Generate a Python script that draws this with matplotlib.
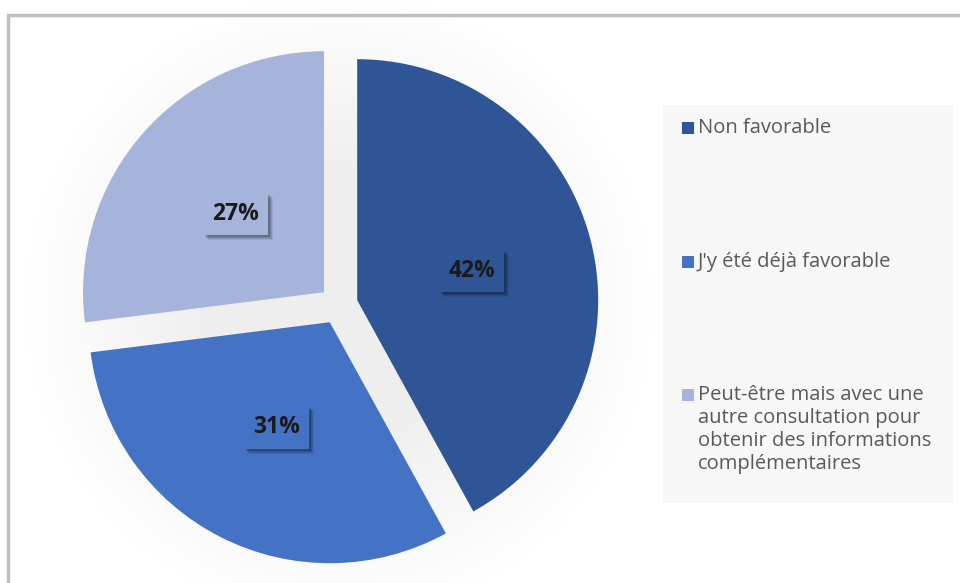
import numpy as np
import matplotlib.pyplot as plt
from matplotlib.patches import Rectangle

plt.rcParams['font.family'] = ['Open Sans', 'DejaVu Sans']

# ---- data ----
labels = ['Non favorable',
          "J'y été déjà favorable",
          'Peut-être mais avec une\nautre consultation pour\nobtenir des informations\ncomplémentaires']
shares = [42, 31, 27]
colors = ['#2F5597', '#4472C4', '#A6B4DC']

# ---- figure in pixel coordinates ----
W, H = 960, 583
fig = plt.figure(figsize=(W / 100, H / 100), dpi=100)
ax = fig.add_axes([0, 0, 1, 1])

cx, cy, r = 338.5, H - 305, 241

# soft grey halo behind the pie
xx, yy = np.meshgrid(np.arange(W), np.arange(H))
dist = np.hypot(xx - cx, yy - cy)
halo = 0.935 + 0.065 * np.clip((dist - 0.55 * r) / (0.75 * r), 0, 1)
ax.imshow(np.dstack([halo] * 3), extent=(0, W, 0, H), origin='lower', zorder=0)

# explode is in data units here (pixels)
wedges, _, pcts = ax.pie(shares, colors=colors, startangle=90, counterclock=False,
                         explode=[19.3] * 3, radius=r, center=(cx, cy),
                         autopct='%1.0f%%', pctdistance=0.49,
                         wedgeprops=dict(linewidth=0, zorder=2),
                         textprops=dict(fontsize=16.5, fontweight='bold', color='#1a1a1a'))

for t, c in zip(pcts, colors):
    t.set_zorder(5)
    t.set_bbox(dict(boxstyle='square,pad=0.4', facecolor=c, edgecolor='none'))

ax.set_xlim(0, W)
ax.set_ylim(0, H)
ax.set_aspect('auto')
ax.axis('off')

# drop shadow under each label box, sized from the rendered box
fig.canvas.draw()
for t in pcts:
    bb = t.get_bbox_patch().get_window_extent()
    for k, a in [(5, 0.08), (4, 0.10), (3, 0.12), (2, 0.14)]:
        ax.add_patch(Rectangle((bb.x0 + k, bb.y0 - k), bb.width, bb.height,
                               facecolor='black', edgecolor='none', alpha=a, zorder=4))

# ---- legend panel ----
ax.add_patch(Rectangle((663, H - 503), 290, 398, facecolor='#F7F7F7',
                       edgecolor='none', zorder=1))
first_line_y = [128, 262, 395]
line_step = 23
for lab, c, y0 in zip(labels, colors, first_line_y):
    ax.add_patch(Rectangle((682, H - y0 - 6), 12, 12, facecolor=c,
                           edgecolor='none', zorder=3))
    for k, line in enumerate(lab.split('\n')):
        ax.text(698, H - y0 - k * line_step, line, fontsize=14.5, color='#595959',
                ha='left', va='center', zorder=3)

# chart frame (left and top edges)
ax.plot([8, 8, W], [0, H - 15, H - 15], color='#BFBFBF', linewidth=2.5,
        solid_joinstyle='miter', zorder=6)

ax.set_xlim(0, W)
ax.set_ylim(0, H)

fig.savefig('out.png', dpi=100, facecolor='white')
